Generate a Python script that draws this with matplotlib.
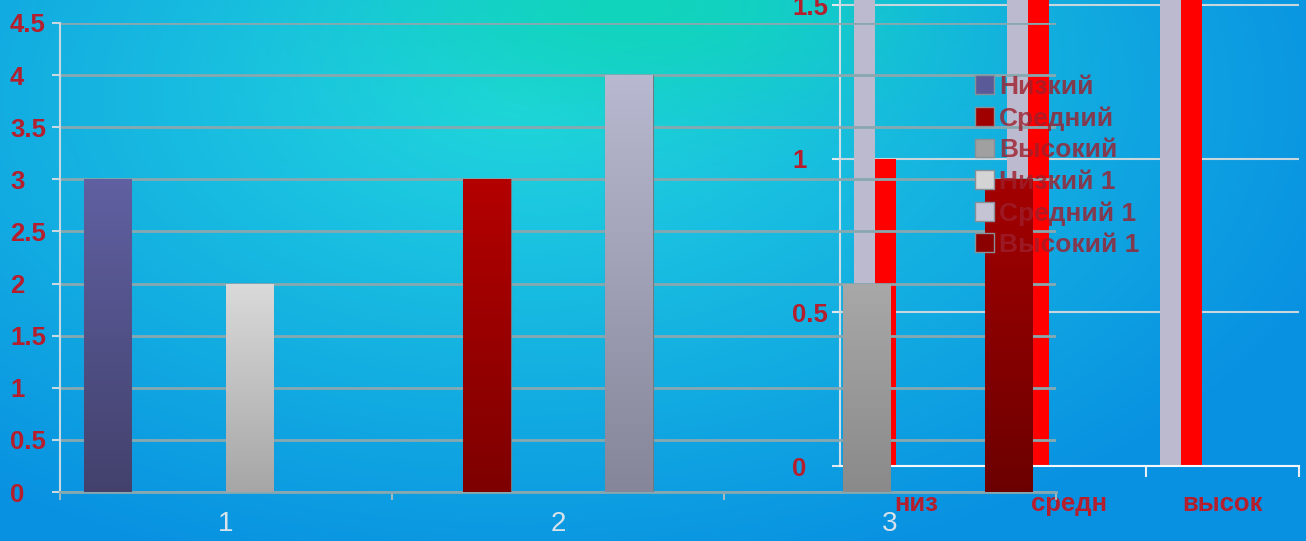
import numpy as np
import matplotlib
matplotlib.use("Agg")
import matplotlib.pyplot as plt
from matplotlib.colors import LinearSegmentedColormap
from matplotlib.patches import Patch

plt.rcParams['font.family'] = ['Liberation Sans', 'DejaVu Sans']

# back chart: three groups, six series
groups = ['1', '2', '3']
series_names = ['Низкий', 'Средний', 'Высокий', 'Низкий 1', 'Средний 1', 'Высокий 1']
low = [3, 0, 0]
mid = [0, 3, 0]
high = [0, 0, 2]
low1 = [2, 0, 0]
mid1 = [0, 4, 0]
high1 = [0, 0, 3]
left_ticks = [0, 0.5, 1, 1.5, 2, 2.5, 3, 3.5, 4, 4.5]

# front chart: three levels, two series
levels = ['низ', 'средн', 'высок']
front_a = [2, 2, 2]
front_b = [1, 2, 2]
right_ticks = [0, 0.5, 1, 1.5]

W, H = 1306, 541
PX = 72 / 100  # points per pixel
fig = plt.figure(figsize=(W / 100, H / 100), dpi=100)

# background gradient
yy, xx = np.mgrid[0:H, 0:W]
blue = np.array([8, 144, 226]) / 255
cyan = np.array([34, 214, 224]) / 255
teal = np.array([16, 214, 184]) / 255
t = np.clip(np.sqrt(((xx - 520) / 880) ** 2 + ((yy - 100) / 500) ** 2), 0, 1)[..., None]
bg = cyan * (1 - t) + blue * t
w = (0.9 * np.exp(-((xx - 640) / 260) ** 2 - (yy / 110) ** 2))[..., None]
bg = bg * (1 - w) + teal * w
bg_ax = fig.add_axes([0, 0, 1, 1], zorder=0)
bg_ax.imshow(bg, aspect='auto', interpolation='bilinear')
bg_ax.axis('off')

red_txt = '#B51E2C'


def gradient_fill(ax, bars, top, bottom):
    cmap = LinearSegmentedColormap.from_list('g', [bottom, top])
    grad = np.linspace(0, 1, 256).reshape(-1, 1)
    for b in bars:
        h = b.get_height()
        if h <= 0:
            b.set_visible(False)
            continue
        x, y, bw = b.get_x(), b.get_y(), b.get_width()
        im = ax.imshow(grad, extent=[x, x + bw, y, y + h], origin='lower',
                       cmap=cmap, aspect='auto', zorder=b.get_zorder())
        im.set_clip_path(b)
        b.set_facecolor('none')


# ---- front chart (drawn underneath the back chart's bars) ----
rax = fig.add_axes([840 / W, 75 / H, 459 / W, 467 / H], zorder=1)
rax.patch.set_alpha(0)
rx = np.arange(len(levels))
bw_r = 0.137
rax.bar(rx - 2.5 * bw_r, front_a, bw_r, color='#BCBACE', zorder=2)
rax.bar(rx - 1.5 * bw_r, front_b, bw_r, color='#FF0000', zorder=2)
rax.set_xlim(-0.5, 2.5)
rax.set_ylim(0, 1.52)
rax.set_yticks(right_ticks)
rax.set_yticklabels(['0', '0.5', '1', '1.5'])
rax.set_xticks(rx)
rax.set_xticklabels(levels)
rax.set_xticks([0.5, 1.5, 2.5], minor=True)
rax.tick_params(axis='x', which='major', length=0, pad=19,
                labelsize=18.5, labelcolor=red_txt)
rax.tick_params(axis='x', which='minor', length=11 * PX, width=1.5, color='#E8EEF2')
rax.tick_params(axis='y', length=8 * PX, width=1.5, color='#E0E8EE', pad=40 * PX,
                labelsize=18.5, labelcolor=red_txt)
for lbl in rax.get_yticklabels():
    lbl.set_horizontalalignment('left')
    lbl.set_fontweight('bold')
for lbl in rax.get_xticklabels():
    lbl.set_fontweight('bold')
rax.yaxis.grid(True, color='#C8D6DE', lw=1.5, zorder=0)
rax.set_axisbelow(True)
for s in ['top', 'right']:
    rax.spines[s].set_visible(False)
rax.spines['left'].set_color('#D0DCE4')
rax.spines['left'].set_linewidth(1.5)
rax.spines['bottom'].set_color('#F4F8FA')
rax.spines['bottom'].set_linewidth(1.5)

# ---- back chart ----
ax = fig.add_axes([60 / W, 49 / H, 996 / W, 469 / H], zorder=2)
ax.patch.set_alpha(0)
x = np.arange(len(groups))
bw = 1 / 7
values = [low, mid, high, low1, mid1, high1]
grads = [('#6060A2', '#43416C'), ('#B40000', '#7E0000'), ('#A8A8A8', '#8A8A8A'),
         ('#DADADA', '#A6A6A6'), ('#B8B8D0', '#86869A'), ('#A40000', '#6C0000')]
for i, vals in enumerate(values):
    bars = ax.bar(x + (i - 2.5) * bw, vals, bw, edgecolor='#6E7C84', lw=0.8, zorder=3)
    gradient_fill(ax, bars, *grads[i])
ax.set_xlim(-0.5, 2.5)
ax.set_ylim(0, 4.5)
ax.set_yticks(left_ticks)
ax.set_yticklabels(['0', '0.5', '1', '1.5', '2', '2.5', '3', '3.5', '4', '4.5'])
ax.set_xticks(x)
ax.set_xticklabels(groups)
ax.set_xticks([-0.5, 0.5, 1.5, 2.5], minor=True)
ax.tick_params(axis='x', which='major', length=0, pad=14, labelsize=20,
               labelcolor='#D8E2EA')
ax.tick_params(axis='x', which='minor', length=8 * PX, width=1.5, color='#A0B8C0')
ax.tick_params(axis='y', length=8 * PX, width=1.5, color='#C8D8E0', pad=42 * PX,
               labelsize=18.5, labelcolor=red_txt)
for lbl in ax.get_yticklabels():
    lbl.set_horizontalalignment('left')
    lbl.set_fontweight('bold')
ax.yaxis.grid(True, color='#88A8B0', lw=2, zorder=1)
ax.set_axisbelow(True)
for s in ['top', 'right']:
    ax.spines[s].set_visible(False)
ax.spines['left'].set_color('#C8D8E0')
ax.spines['left'].set_linewidth(1.5)
ax.spines['bottom'].set_color('#88A8B0')
ax.spines['bottom'].set_linewidth(2)

# legend of the back chart's series
legend_colors = ['#5A5A98', '#A00000', '#A0A0A0', '#D4D4D4', '#C4C4D4', '#8B0000']
handles = [Patch(facecolor=c, edgecolor='#8A9098', lw=1) for c in legend_colors]
leg = fig.legend(handles, series_names, loc='upper left',
                 bbox_to_anchor=(975 / W, 1 - 75 / H), frameon=False,
                 handlelength=0.72, handleheight=0.72, handletextpad=0.2,
                 labelspacing=0.28, borderpad=0, borderaxespad=0,
                 prop={'size': 19, 'weight': 'bold'})
leg.set_zorder(10)
for txt in leg.get_texts():
    txt.set_color((0.62, 0.12, 0.17, 0.8))

fig.savefig('out.png', dpi=100)
